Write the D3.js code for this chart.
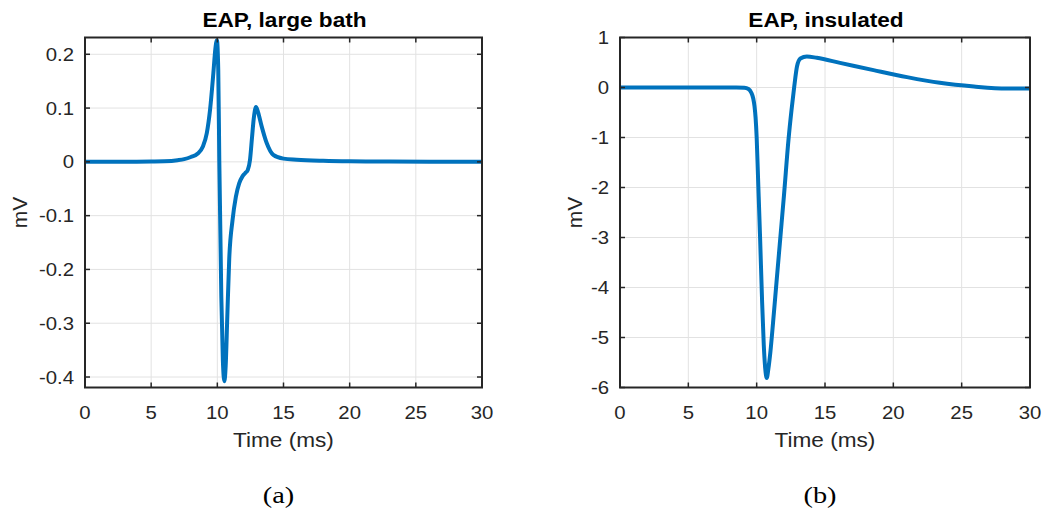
<!DOCTYPE html>
<html><head><meta charset="utf-8">
<script src="https://cdn.jsdelivr.net/npm/d3@7"></script>
<style>body{margin:0;background:#fff}svg{display:block}</style>
</head><body>
<svg id="c" width="1046" height="509"></svg>
<script>
// ---- data ----
const xTicks = [0, 5, 10, 15, 20, 25, 30];
const tA = [0, 3, 5, 6, 7, 7.5, 8, 8.5, 8.9, 9.2, 9.45, 9.7, 9.85, 9.97, 10.07, 10.15, 10.3, 10.42, 10.53, 10.63, 10.75, 10.9, 11.15, 11.4, 11.65, 11.9, 12.1, 12.3, 12.47, 12.62, 12.75, 12.92, 13.08, 13.35, 13.73, 14.23, 15, 16, 18, 20, 23, 26, 30];
const vA = [0, 0, 0.0005, 0.001, 0.003, 0.005, 0.009, 0.015, 0.028, 0.053, 0.097, 0.165, 0.21, 0.226, 0.17, 0.0, -0.25, -0.37, -0.408, -0.38, -0.29, -0.18, -0.108, -0.065, -0.04, -0.027, -0.021, -0.015, 0.004, 0.045, 0.08, 0.102, 0.092, 0.066, 0.035, 0.013, 0.006, 0.004, 0.002, 0.001, 0.0005, 0, 0];
const yTicksA = [-0.4, -0.3, -0.2, -0.1, 0, 0.1, 0.2];
const yTickLabelsA = ["-0.4", "-0.3", "-0.2", "-0.1", "0", "0.1", "0.2"];
const yLimA = [-0.4195, 0.2312];

const tB = [0, 5, 8.5, 9.1, 9.4, 9.6, 9.75, 9.84, 9.92, 10.0, 10.1, 10.25, 10.4, 10.52, 10.62, 10.74, 10.86, 11.0, 11.2, 11.45, 11.72, 12.0, 12.33, 12.55, 12.75, 12.95, 13.2, 13.67, 14.4, 16.1, 18.55, 21, 23.4, 25.9, 28.3, 30];
const vB = [0, 0, 0, -0.005, -0.03, -0.1, -0.22, -0.37, -0.6, -1.0, -1.8, -3.0, -4.3, -5.15, -5.6, -5.81, -5.62, -5.3, -4.7, -3.9, -3.04, -2.15, -1.04, -0.45, 0.02, 0.42, 0.58, 0.62, 0.593, 0.493, 0.347, 0.207, 0.093, 0.02, -0.02, -0.02];
const yTicksB = [-6, -5, -4, -3, -2, -1, 0, 1];
const yTickLabelsB = ["-6", "-5", "-4", "-3", "-2", "-1", "0", "1"];
const yLimB = [-6, 1];

const titles = ["EAP, large bath", "EAP, insulated"];
const captions = ["(a)", "(b)"];
const xLabel = "Time (ms)";
const yLabel = "mV";

const svg = d3.select("#c");
const STRETCH = 1.13;
function stretch(sel, f) {
  sel.each(function () {
    const L = this.getComputedTextLength();
    d3.select(this).attr("textLength", L * f).attr("lengthAdjust", "spacingAndGlyphs");
  });
}

function panel(cfg) {
  const {left, right, top, bottom, t, v, yTicks, yLabels, yLim, title, caption, id, ylabX} = cfg;
  const x = d3.scaleLinear().domain([0, 30]).range([left, right]);
  const y = d3.scaleLinear().domain(yLim).range([bottom, top]);
  const g = svg.append("g");
  // grid
  g.append("g").selectAll("line").data(xTicks.slice(1, -1)).join("line")
    .attr("x1", d => x(d)).attr("x2", d => x(d)).attr("y1", top).attr("y2", bottom)
    .attr("stroke", "#e2e2e2").attr("stroke-width", 1);
  g.append("g").selectAll("line").data(yTicks).join("line")
    .attr("x1", left).attr("x2", right).attr("y1", d => y(d)).attr("y2", d => y(d))
    .attr("stroke", "#e2e2e2").attr("stroke-width", 1);
  // clip
  svg.append("clipPath").attr("id", id).append("rect")
    .attr("x", left).attr("y", top).attr("width", right - left).attr("height", bottom - top);
  const line = d3.line().x((d, i) => x(t[i])).y(d => y(d)).curve(d3.curveMonotoneX);
  g.append("path").datum(v).attr("d", line).attr("fill", "none")
    .attr("stroke", "#0072BD").attr("stroke-width", 4).attr("stroke-linejoin", "round")
    .attr("stroke-linecap", "round").attr("clip-path", `url(#${id})`);
  // axes with inward ticks on all sides
  const ax = g.append("g").attr("stroke", "#262626");
  const TL = 5;
  xTicks.forEach(d => {
    ax.append("line").attr("x1", x(d)).attr("x2", x(d)).attr("y1", bottom).attr("y2", bottom - TL).attr("stroke-width", 1.5);
    ax.append("line").attr("x1", x(d)).attr("x2", x(d)).attr("y1", top).attr("y2", top + TL).attr("stroke-width", 1.5);
  });
  yTicks.forEach(d => {
    ax.append("line").attr("x1", left).attr("x2", left + TL).attr("y1", y(d)).attr("y2", y(d)).attr("stroke-width", 1.5);
    ax.append("line").attr("x1", right).attr("x2", right - TL).attr("y1", y(d)).attr("y2", y(d)).attr("stroke-width", 1.5);
  });
  ax.append("rect").attr("x", left).attr("y", top).attr("width", right - left).attr("height", bottom - top)
    .attr("fill", "none").attr("stroke-width", 2);
  // labels
  const font = "'Liberation Sans', Arial, Helvetica, sans-serif";
  const xl = g.append("g").selectAll("text").data(xTicks).join("text")
    .attr("x", d => x(d)).attr("y", 418.5).attr("text-anchor", "middle")
    .attr("font-family", font).attr("font-size", 18).attr("fill", "#262626").text(d => d);
  stretch(xl, STRETCH);
  const yl = g.append("g").selectAll("text").data(yTicks).join("text")
    .attr("x", left - 11).attr("y", d => y(d) + 6.5).attr("text-anchor", "end")
    .attr("font-family", font).attr("font-size", 18).attr("fill", "#262626").text((d, i) => yLabels[i]);
  stretch(yl, STRETCH);
  const tt = g.append("text").attr("x", (left + right) / 2 + 1).attr("y", 26.5).attr("text-anchor", "middle")
    .attr("font-family", font).attr("font-size", 20).attr("font-weight", "bold").attr("fill", "#000").text(title);
  stretch(tt, STRETCH);
  const xt = g.append("text").attr("x", (left + right) / 2).attr("y", 447).attr("text-anchor", "middle")
    .attr("font-family", font).attr("font-size", 20).attr("fill", "#262626").text(xLabel);
  stretch(xt, STRETCH);
  g.append("text").attr("transform", `translate(${ylabX},${(top + bottom) / 2}) rotate(-90)`)
    .attr("text-anchor", "middle").attr("font-family", font).attr("font-size", 21)
    .attr("fill", "#262626").text(yLabel);
  const cp = g.append("text").attr("x", (left + right) / 2 - 5).attr("y", 503).attr("text-anchor", "middle")
    .attr("font-family", "'Liberation Serif', 'Times New Roman', serif").attr("font-size", 24)
    .attr("fill", "#000").text(caption);
  stretch(cp, 1.18);
}

panel({left: 85, right: 482, top: 37.5, bottom: 387.5, t: tA, v: vA, yTicks: yTicksA, yLabels: yTickLabelsA,
  yLim: yLimA, title: titles[0], caption: captions[0], id: "clipA", ylabX: 27});
panel({left: 620, right: 1030, top: 37.5, bottom: 387.5, t: tB, v: vB, yTicks: yTicksB, yLabels: yTickLabelsB,
  yLim: yLimB, title: titles[1], caption: captions[1], id: "clipB", ylabX: 582});
</script>
</body></html>
